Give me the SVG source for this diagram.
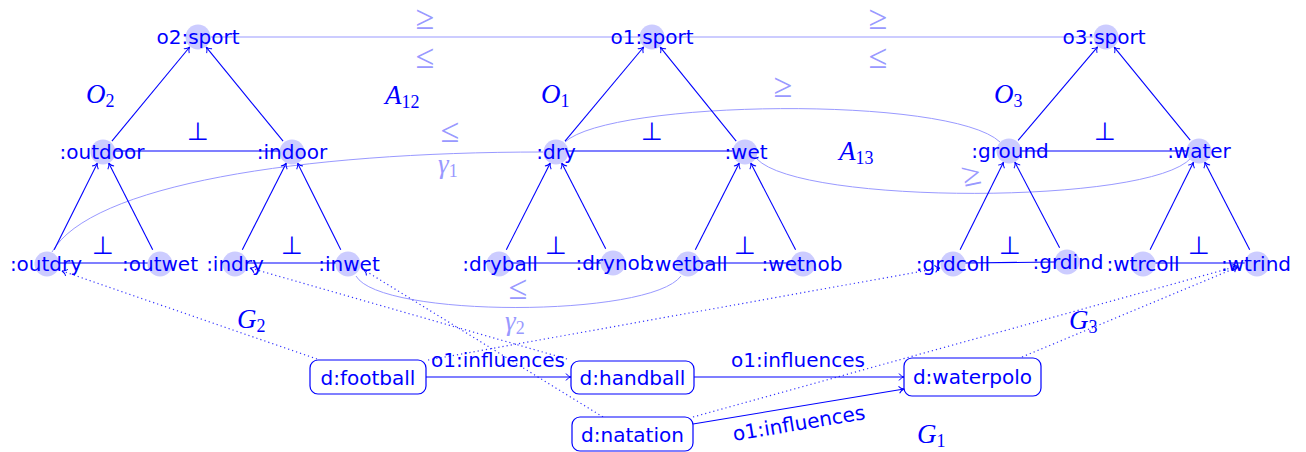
<svg xmlns="http://www.w3.org/2000/svg" width="1306" height="452" viewBox="0 0 1306 452">
<defs>
<style>
.n circle{fill:#ccccff}
.t{font-family:"DejaVu Sans",sans-serif;font-size:20px;fill:#0000ff;text-anchor:middle}
.e{stroke:#0000ff;stroke-width:1.1;fill:none}
.al{stroke:#9999ff;stroke-width:1;fill:none}
.dot{stroke:#3333ff;stroke-width:1.2;stroke-dasharray:1.2 3;fill:none}
.m{font-family:"Liberation Serif",serif;font-style:italic;font-size:27px;fill:#0000ff}
.ml{font-family:"Liberation Serif",serif;font-style:italic;font-size:27px;fill:#9999ff}
.sub{font-style:normal;font-size:18px}
.sym{font-family:"Liberation Serif","DejaVu Serif",serif;font-size:34px;fill:#9999ff;text-anchor:middle}
.perp{font-family:"DejaVu Sans",sans-serif;font-size:25px;fill:#0000ff;text-anchor:middle}
.box{fill:#ffffff;stroke:#0000ff;stroke-width:1.2}
</style>
<marker id="to" markerWidth="10" markerHeight="10" viewBox="-6 -5 10 10" refX="0" refY="0" orient="auto" markerUnits="userSpaceOnUse">
<path d="M-5,-3.5 C-3.5,-1.2 -1.2,-0.3 0,0 C-1.2,0.3 -3.5,1.2 -5,3.5" fill="none" stroke="#0000ff" stroke-width="1"/>
</marker>
</defs>
<rect width="1306" height="452" fill="#ffffff"/>

<g id="connectors">
<line class="al" x1="211" y1="37" x2="639" y2="37"/>
<line class="al" x1="665" y1="37" x2="1093" y2="37"/>
<path class="al" d="M52,252 C90,185 300,152 543,152"/>
<path class="al" d="M565,142 C610,100 950,95 1000,142"/>
<path class="al" d="M757,159 C800,205 1150,205 1191,158"/>
<path class="al" d="M356,276 C380,318 650,318 681,276"/>
<line class="e" x1="115" y1="151" x2="280" y2="151"/>
<line class="e" x1="568" y1="151" x2="733" y2="151"/>
<line class="e" x1="1021" y1="151" x2="1187" y2="151"/>
<line class="e" x1="59" y1="263" x2="148" y2="263"/>
<line class="e" x1="247" y1="263" x2="336" y2="263"/>
<line class="e" x1="511" y1="263" x2="601" y2="263"/>
<line class="e" x1="700" y1="263" x2="791" y2="263"/>
<line class="e" x1="965" y1="263" x2="1055" y2="262"/>
<line class="e" x1="1155" y1="263" x2="1245" y2="263"/>
<g marker-end="url(#to)">
<line class="e" x1="111.9" y1="141.2" x2="189.7" y2="47"/>
<line class="e" x1="283.1" y1="141.2" x2="206.2" y2="47.1"/>
<line class="e" x1="565" y1="141.2" x2="643.7" y2="47"/>
<line class="e" x1="736.2" y1="141.1" x2="660.2" y2="47.1"/>
<line class="e" x1="1018.1" y1="140.3" x2="1097.6" y2="46.9"/>
<line class="e" x1="1190.2" y1="140.2" x2="1114.2" y2="47.1"/>
<line class="e" x1="54.2" y1="249.7" x2="97.4" y2="163.2"/>
<line class="e" x1="152.7" y1="249.7" x2="108.7" y2="163.1"/>
<line class="e" x1="242.3" y1="249.7" x2="286.3" y2="163.1"/>
<line class="e" x1="340.8" y1="249.7" x2="297.6" y2="163.2"/>
<line class="e" x1="506.3" y1="249.7" x2="550.3" y2="163.1"/>
<line class="e" x1="605.7" y1="248.8" x2="561.7" y2="163.1"/>
<line class="e" x1="695.3" y1="249.7" x2="739.3" y2="163.1"/>
<line class="e" x1="795.6" y1="249.8" x2="750.7" y2="163.1"/>
<line class="e" x1="960.1" y1="249.7" x2="1003.5" y2="162.2"/>
<line class="e" x1="1059.6" y1="247.8" x2="1014.8" y2="162.1"/>
<line class="e" x1="1150.1" y1="249.7" x2="1193.5" y2="162.2"/>
<line class="e" x1="1249.7" y1="249.8" x2="1204.7" y2="162.2"/>
<line class="dot" x1="317" y1="359" x2="62" y2="271"/>
<line class="dot" x1="567" y1="359" x2="250" y2="268"/>
<line class="dot" x1="603" y1="417" x2="364" y2="270"/>
<line class="dot" x1="428" y1="360" x2="940" y2="268"/>
<line class="dot" x1="693" y1="417" x2="1238" y2="266"/>
<line class="dot" x1="1022" y1="357" x2="1238" y2="267"/>
<line class="e" x1="426" y1="377" x2="571" y2="377"/>
<line class="e" x1="694" y1="377" x2="904" y2="377"/>
<line class="e" x1="693" y1="424" x2="904" y2="389"/>
</g>
<text class="t" x="498" y="367">o1:influences</text>
<text class="t" x="798" y="367">o1:influences</text>
<text class="t" x="800" y="430" transform="rotate(-9.5 800 430)">o1:influences</text>
</g>

<g id="labels">
<text class="sym" x="425" y="29">≥</text>
<text class="sym" x="425" y="68">≤</text>
<text class="sym" x="878" y="29">≥</text>
<text class="sym" x="878" y="68">≤</text>
<text class="sym" x="450" y="142">≤</text>
<text class="ml" x="438" y="173">γ<tspan class="sub" dy="4">1</tspan></text>
<text class="sym" x="783" y="97">≥</text>
<text class="sym" x="972" y="185" transform="rotate(-12 972 178)">≥</text>
<text class="sym" x="518" y="299">≤</text>
<text class="ml" x="505" y="330">γ<tspan class="sub" dy="4">2</tspan></text>
<text class="m" x="86" y="103">O<tspan class="sub" dy="4">2</tspan></text>
<text class="m" x="385" y="104">A<tspan class="sub" dy="4">12</tspan></text>
<text class="m" x="541" y="103">O<tspan class="sub" dy="4">1</tspan></text>
<text class="m" x="994" y="103">O<tspan class="sub" dy="4">3</tspan></text>
<text class="m" x="839" y="160">A<tspan class="sub" dy="4">13</tspan></text>
<text class="m" x="237" y="328">G<tspan class="sub" dy="4">2</tspan></text>
<text class="m" x="1069" y="329">G<tspan class="sub" dy="4">3</tspan></text>
<text class="m" x="917" y="443">G<tspan class="sub" dy="4">1</tspan></text>
<text class="perp" x="198" y="140">⊥</text>
<text class="perp" x="652" y="140">⊥</text>
<text class="perp" x="1105" y="140">⊥</text>
<text class="perp" x="103" y="254">⊥</text>
<text class="perp" x="292" y="254">⊥</text>
<text class="perp" x="556" y="254">⊥</text>
<text class="perp" x="745" y="254">⊥</text>
<text class="perp" x="1010" y="254">⊥</text>
<text class="perp" x="1199" y="254">⊥</text>
</g>

<g id="o2sport" class="n"><circle cx="198" cy="37" r="12.5"/><text class="t" x="198" y="44">o2:sport</text></g>
<g id="o1sport" class="n"><circle cx="652" cy="37" r="12.5"/><text class="t" x="652" y="44">o1:sport</text></g>
<g id="o3sport" class="n"><circle cx="1106" cy="37" r="12.5"/><text class="t" x="1104" y="44">o3:sport</text></g>
<g id="outdoor" class="n"><circle cx="103" cy="152" r="12.5"/><text class="t" x="102" y="159">:outdoor</text></g>
<g id="indoor" class="n"><circle cx="292" cy="152" r="12.5"/><text class="t" x="292" y="159">:indoor</text></g>
<g id="dry" class="n"><circle cx="556" cy="152" r="12.5"/><text class="t" x="556" y="159">:dry</text></g>
<g id="wet" class="n"><circle cx="745" cy="152" r="12.5"/><text class="t" x="746" y="159">:wet</text></g>
<g id="ground" class="n"><circle cx="1009" cy="151" r="12.5"/><text class="t" x="1010" y="158">:ground</text></g>
<g id="water" class="n"><circle cx="1199" cy="151" r="12.5"/><text class="t" x="1199" y="158">:water</text></g>
<g id="outdry" class="n"><circle cx="47" cy="264" r="12.5"/><text class="t" x="46" y="271">:outdry</text></g>
<g id="outwet" class="n"><circle cx="160" cy="264" r="12.5"/><text class="t" x="160" y="271">:outwet</text></g>
<g id="indry" class="n"><circle cx="235" cy="264" r="12.5"/><text class="t" x="235" y="271">:indry</text></g>
<g id="inwet" class="n"><circle cx="348" cy="264" r="12.5"/><text class="t" x="349" y="271">:inwet</text></g>
<g id="dryball" class="n"><circle cx="499" cy="264" r="12.5"/><text class="t" x="500" y="271">:dryball</text></g>
<g id="drynob" class="n"><circle cx="613" cy="263" r="12.5"/><text class="t" x="614" y="270">:drynob</text></g>
<g id="wetball" class="n"><circle cx="688" cy="264" r="12.5"/><text class="t" x="688" y="271">:wetball</text></g>
<g id="wetnob" class="n"><circle cx="803" cy="264" r="12.5"/><text class="t" x="802" y="271">:wetnob</text></g>
<g id="grdcoll" class="n"><circle cx="953" cy="264" r="12.5"/><text class="t" x="953" y="271">:grdcoll</text></g>
<g id="grdind" class="n"><circle cx="1067" cy="262" r="12.5"/><text class="t" x="1068" y="269">:grdind</text></g>
<g id="wtrcoll" class="n"><circle cx="1143" cy="264" r="12.5"/><text class="t" x="1143" y="271">:wtrcoll</text></g>
<g id="wtrind" class="n"><circle cx="1257" cy="264" r="12.5"/><text class="t" x="1256" y="271">:wtrind</text></g>

<g id="football"><rect class="box" x="310" y="360" width="116" height="34" rx="8"/><text class="t" x="368" y="385">d:football</text></g>
<g id="handball"><rect class="box" x="571" y="361" width="123" height="33" rx="8"/><text class="t" x="632.5" y="385">d:handball</text></g>
<g id="natation"><rect class="box" x="572" y="417" width="121" height="34" rx="8"/><text class="t" x="632.5" y="442">d:natation</text></g>
<g id="waterpolo"><rect class="box" x="904" y="358" width="137" height="38" rx="8"/><text class="t" x="972.5" y="384">d:waterpolo</text></g>
</svg>
